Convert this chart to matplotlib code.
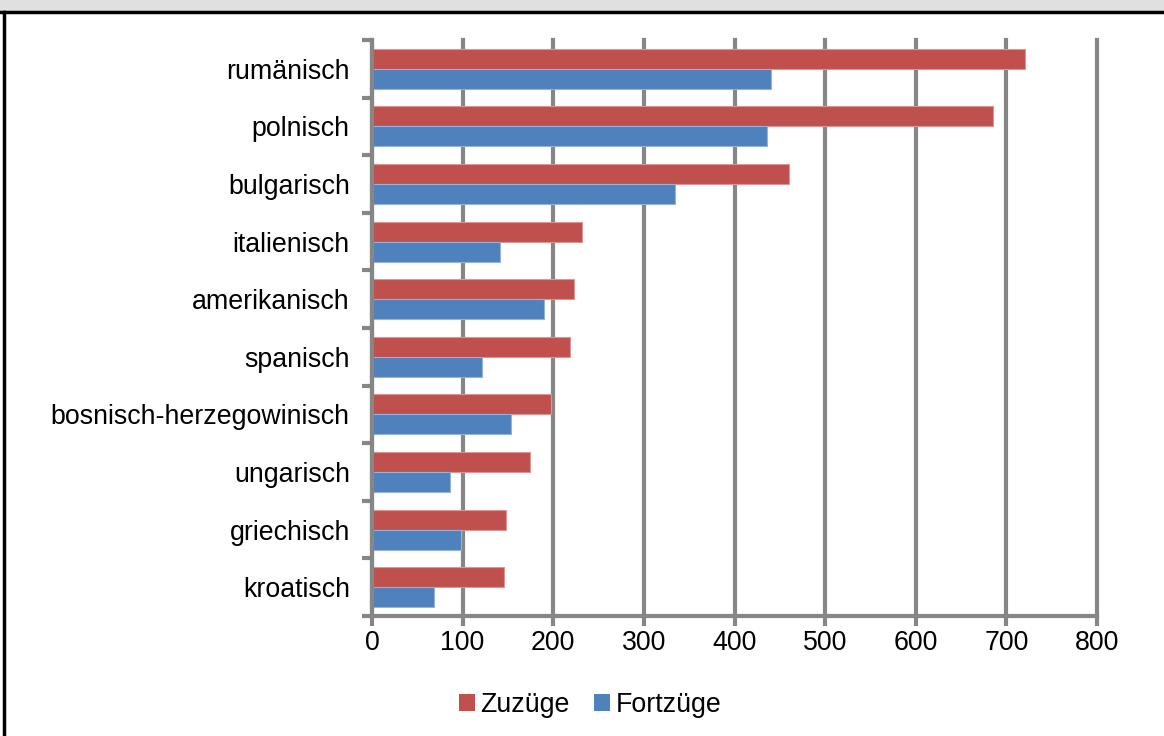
import matplotlib
matplotlib.use("Agg")
import matplotlib.pyplot as plt
import numpy as np
from matplotlib.patches import Rectangle
from matplotlib.lines import Line2D

categories = ["rumänisch", "polnisch", "bulgarisch", "italienisch", "amerikanisch",
              "spanisch", "bosnisch-herzegowinisch", "ungarisch", "griechisch", "kroatisch"]
zuzuege = [721, 685, 460, 232, 223, 219, 198, 174, 148, 146]
fortzuege = [440, 436, 334, 141, 190, 121, 153, 86, 98, 68]
xticks = [0, 100, 200, 300, 400, 500, 600, 700, 800]
series_names = ["Zuzüge", "Fortzüge"]

plt.rcParams['font.family'] = ['Liberation Sans', 'DejaVu Sans']
FS = 19.3

W, H = 1164, 736
fig = plt.figure(figsize=(W / 100, H / 100), dpi=100)

# frame decorations: grey band at top with black rule, left black border
fig.patches.append(Rectangle((0, 1 - 11 / H), 1, 11 / H, transform=fig.transFigure,
                             facecolor="#e0e0e0", edgecolor="none", zorder=0))
fig.lines.append(Line2D([0, 1], [1 - 11.5 / H, 1 - 11.5 / H], transform=fig.transFigure,
                        color="black", lw=2.5))
fig.lines.append(Line2D([4 / W, 4 / W], [0, 1 - 11.5 / H], transform=fig.transFigure,
                        color="black", lw=2.5))

left, right, top, bottom = 372, 1097, 40, 616
ax = fig.add_axes([left / W, 1 - bottom / H, (right - left) / W, (bottom - top) / H])

n = len(categories)
y = np.arange(n)[::-1].astype(float)
h = 0.347
red = "#c0504d"
blue = "#4f81bd"
ax.barh(y + h / 2, zuzuege, height=h, color=red, edgecolor="#d99694", linewidth=0.8,
        label=series_names[0], zorder=3)
ax.barh(y - h / 2, fortzuege, height=h, color=blue, edgecolor="#95b3d7", linewidth=0.8,
        label=series_names[1], zorder=3)

ax.set_xlim(0, 800)
ax.set_ylim(-0.5, n - 0.5)
ax.set_xticks(xticks)
ax.set_xticklabels([str(v) for v in xticks], fontsize=FS)
ax.set_yticks(np.arange(n + 1) - 0.5, minor=False)
ax.set_yticklabels([])
ax.set_yticks(y, minor=True)
ax.set_yticklabels(categories, minor=True, fontsize=FS)
ax.tick_params(axis="y", which="minor", length=0, pad=16)
ax.tick_params(axis="y", which="major", length=7, width=3, color="#868686", direction="out")
ax.tick_params(axis="x", length=7, width=3, color="#868686", direction="out", pad=3)

ax.grid(axis="x", color="#868686", lw=3, zorder=1)
for gl in ax.get_xgridlines():
    gl.set_clip_on(False)
for s in ["top", "right"]:
    ax.spines[s].set_visible(False)
for s in ["left", "bottom"]:
    ax.spines[s].set_color("#868686")
    ax.spines[s].set_linewidth(3)
    ax.spines[s].set_zorder(4)

leg = fig.legend(loc="center", bbox_to_anchor=(0.507, 1 - 705 / H), ncol=2, frameon=False,
                 fontsize=FS, handlelength=0.6, handleheight=0.6, handletextpad=0.2,
                 columnspacing=0.9)
for p in leg.get_patches():
    p.set_edgecolor("none")

fig.savefig("out.png", dpi=100)
